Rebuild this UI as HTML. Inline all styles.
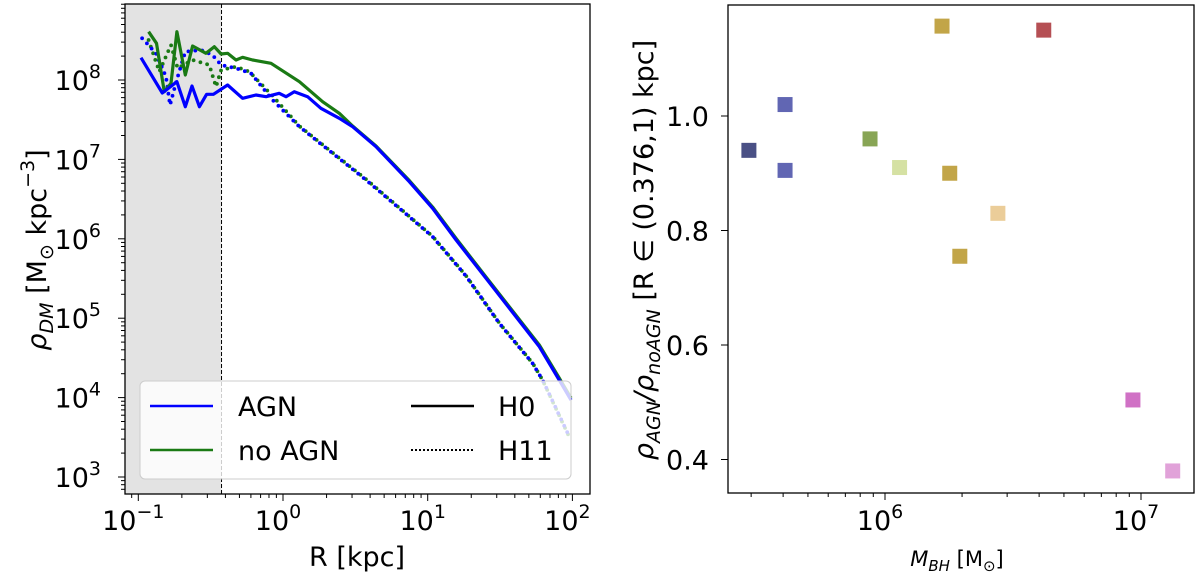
<!DOCTYPE html>
<html><head><meta charset="utf-8"><style>
html,body{margin:0;padding:0;background:#fff;}
svg{display:block;font-family:"DejaVu Sans","Liberation Sans",sans-serif;}
</style></head><body>
<svg id="fig" width="1200" height="583" viewBox="0 0 1200 583">
<g id="left"></g>
<g id="right"></g>
</svg>
<script>
// ---- Left panel data (log10 R [kpc], log10 rho) ----
const agnH0_logR = [-0.981,-0.834,-0.733,-0.675,-0.629,-0.578,-0.528,-0.481,-0.383,-0.279,-0.187,-0.117,-0.026,0.021,0.078,0.170,0.262,0.389,0.481,0.643,0.873,1.034,1.196,1.403,1.771,1.909,1.990];
const agnH0_logRho = [8.281,7.836,7.979,7.664,7.924,7.664,7.820,7.820,7.937,7.770,7.811,7.790,7.832,7.790,7.853,7.790,7.644,7.518,7.412,7.160,6.719,6.384,5.985,5.503,4.641,4.222,3.970];
const noagnH0_logR = [-0.929,-0.874,-0.820,-0.774,-0.733,-0.675,-0.625,-0.532,-0.475,-0.428,-0.383,-0.325,-0.279,-0.210,-0.083,0.113,0.274,0.389,0.481,0.643,0.873,1.034,1.196,1.403,1.771,1.909,1.990];
const noagnH0_logRho = [8.608,8.462,7.853,7.958,8.608,8.063,8.428,8.336,8.419,8.327,8.336,8.252,8.286,8.252,8.210,7.979,7.727,7.581,7.421,7.169,6.734,6.400,6.004,5.519,4.662,4.247,3.995];
const agnH11_logR = [-0.974,-0.878,-0.809,-0.781,-0.728,-0.675,-0.567,-0.487,-0.428,-0.325,-0.221,-0.072,0.113,0.343,0.574,0.804,1.034,1.265,1.495,1.725,1.794,1.979];
const agnH11_logRho = [8.525,8.336,8.042,7.685,8.042,8.356,8.378,8.315,8.189,8.147,8.084,7.748,7.412,7.077,6.741,6.384,6.026,5.531,4.936,4.432,4.222,3.508];
const noagnH11_logR = [-0.929,-0.855,-0.774,-0.728,-0.625,-0.509,-0.463,-0.428,-0.325,-0.233,-0.072,0.113,0.343,0.574,0.804,1.034,1.265,1.495,1.725,1.794,1.979];
const noagnH11_logRho = [8.504,8.105,8.441,8.147,8.252,8.189,7.916,8.126,8.168,8.105,7.798,7.420,7.085,6.750,6.390,6.030,5.535,4.940,4.435,4.220,3.500];
const leftXTickExp = [-1,0,1,2];
const leftYTickExp = [3,4,5,6,7,8];
const innerCut = 0.376;
// ---- Right panel data ----
const mbh = [2.94e5,4.07e5,4.07e5,8.74e5,1.14e6,1.67e6,1.79e6,1.96e6,2.76e6,4.17e6,9.3e6,1.33e7];
const ratio = [0.940,1.020,0.905,0.960,0.910,1.157,0.900,0.755,0.830,1.150,0.504,0.380];
const pointColors = ["#1d2466","#3a40a0","#3a40a0","#6a8e2a","#cbd98c","#b38e1a","#b38e1a","#b38e1a","#e6c180","#a32329","#c44db6","#d98bcf"];
const rightYTicks = [0.4,0.6,0.8,1.0];
const rightXTickExp = [6,7];

const NS="http://www.w3.org/2000/svg";
function mk(parent,tag,attrs,text){const e=document.createElementNS(NS,tag);for(const k in attrs)e.setAttribute(k,attrs[k]);if(text!==undefined)e.textContent=text;parent.appendChild(e);return e;}

const FS=27, SS=19;
// ===== Left axes =====
const L={x0:125,x1:590,y0:4,y1:494};
const lx=v=>283+v*144.7;
const ly=v=>80-(v-8)*79.4;
const left=document.getElementById('left');
let e;
e=mk(left,'rect',{x:L.x0,y:L.y0,width:lx(Math.log10(innerCut))-L.x0,height:L.y1-L.y0,fill:'#e3e3e3'});


e=mk(left,'line',{x1:lx(Math.log10(innerCut)),x2:lx(Math.log10(innerCut)),y1:L.y0,y2:L.y1,stroke:'#000','stroke-width':1,'stroke-dasharray':'4,2'});



function drawLine(xs,ys,color,dotted,name){
  const d=xs.map((x,i)=>(i?'L':'M')+lx(x).toFixed(1)+','+ly(ys[i]).toFixed(1)).join('');
  if(!dotted){
    const p=mk(left,'path',{d:d,fill:'none',stroke:color,'stroke-width':3.2,'stroke-linejoin':'round'});
    
    
    return;
  }
  const g=mk(left,'g',{fill:color});
  
  
  const p=mk(g,'path',{d:d,fill:'none',stroke:'none'});
  const len=p.getTotalLength();
  for(let s=0;s<=len;s+=7){const pt=p.getPointAtLength(s);mk(g,'circle',{cx:pt.x.toFixed(1),cy:pt.y.toFixed(1),r:1.9});}
}
drawLine(noagnH11_logR,noagnH11_logRho,'#1a7a14',true,'line-noagn-h11');
drawLine(agnH11_logR,agnH11_logRho,'#0000ff',true,'line-agn-h11');
drawLine(noagnH0_logR,noagnH0_logRho,'#1a7a14',false,'line-noagn-h0');
drawLine(agnH0_logR,agnH0_logRho,'#0000ff',false,'line-agn-h0');

const lt=mk(left,'g',{stroke:'#000','stroke-width':1});
for(let d=-2;d<=2;d++){for(let m=1;m<=9;m++){const v=d+Math.log10(m);const x=lx(v);if(x<L.x0||x>L.x1)continue;mk(lt,'line',{x1:x,x2:x,y1:L.y1,y2:L.y1+(m===1?7:4)});}}
for(let d=2;d<=9;d++){for(let m=1;m<=9;m++){const v=d+Math.log10(m);const y=ly(v);if(y<L.y0||y>L.y1)continue;mk(lt,'line',{x1:L.x0,x2:L.x0-(m===1?7:4),y1:y,y2:y});}}
leftXTickExp.forEach(p=>{const t=mk(left,'text',{x:lx(p)-5,y:530,'font-size':FS,'text-anchor':'middle'});t.appendChild(document.createTextNode('10'));mk(t,'tspan',{dy:-12,'font-size':SS},p<0?'−'+(-p):String(p));});
leftYTickExp.forEach(p=>{const t=mk(left,'text',{x:101,y:ly(p)+10,'font-size':FS,'text-anchor':'end'});t.appendChild(document.createTextNode('10'));mk(t,'tspan',{dy:-12,'font-size':SS},String(p));});
mk(left,'rect',{x:L.x0,y:L.y0,width:L.x1-L.x0,height:L.y1-L.y0,fill:'none',stroke:'#000','stroke-width':1.3});
e=mk(left,'text',{x:357,y:566,'font-size':FS,'text-anchor':'middle'},'R [kpc]');


e=mk(left,'text',{transform:'translate(46,250) rotate(-90)','font-size':FS,'text-anchor':'middle'});


mk(e,'tspan',{'font-style':'italic'},'ρ');mk(e,'tspan',{'font-size':SS,dy:7,'font-style':'italic'},'DM');mk(e,'tspan',{dy:-7},' [M');mk(e,'tspan',{'font-size':SS,dy:7},'⊙');mk(e,'tspan',{dy:-7},' kpc');mk(e,'tspan',{'font-size':SS,dy:-12},'−3');mk(e,'tspan',{dy:12},']');

// legend
const lg=mk(left,'g',{});


mk(lg,'rect',{x:140,y:381,width:431,height:98,rx:5,fill:'#fff','fill-opacity':0.8,stroke:'#ccc'});
const leg=[[150,406,'#0000ff',false,'AGN',238],[150,450,'#1a7a14',false,'no AGN',238],[411,406,'#000',false,'H0',498],[411,450,'#000',true,'H11',498]];
leg.forEach(a=>{const g=mk(lg,'g',{});const l=mk(g,'line',{x1:a[0],x2:a[0]+63,y1:a[1],y2:a[1],stroke:a[2],'stroke-width':a[3]?2:2.5});if(a[3])l.setAttribute('stroke-dasharray','2,2');mk(g,'text',{x:a[5],y:a[1]+10,'font-size':FS},a[4]);});

// ===== Right axes =====
const R={x0:728,x1:1194,y0:5,y1:493};
const rx=m=>885+(Math.log10(m)-6)*256;
const ry=v=>116-(v-1.0)*572.5;
const right=document.getElementById('right');
mbh.forEach((m,i)=>{const s=mk(right,'rect',{x:rx(m)-7.5,y:ry(ratio[i])-7.5,width:15,height:15,fill:pointColors[i],'fill-opacity':0.8});

});
const rt=mk(right,'g',{stroke:'#000','stroke-width':1});
for(let d=5;d<=7;d++){for(let m=1;m<=9;m++){const x=rx(m*Math.pow(10,d));if(x<R.x0||x>R.x1)continue;mk(rt,'line',{x1:x,x2:x,y1:R.y1,y2:R.y1+(m===1?7:4)});}}
rightYTicks.forEach(v=>{mk(rt,'line',{x1:R.x0,x2:R.x0-7,y1:ry(v),y2:ry(v)});const t=mk(right,'text',{x:709,y:ry(v)+10,'font-size':FS,'text-anchor':'end'},v.toFixed(1));});
rightXTickExp.forEach(p=>{const t=mk(right,'text',{x:rx(Math.pow(10,p))-5,y:530,'font-size':FS,'text-anchor':'middle'});t.appendChild(document.createTextNode('10'));mk(t,'tspan',{dy:-12,'font-size':SS},String(p));});
mk(right,'rect',{x:R.x0,y:R.y0,width:R.x1-R.x0,height:R.y1-R.y0,fill:'none',stroke:'#000','stroke-width':1.3});
e=mk(right,'text',{x:957,y:566,'font-size':21,'text-anchor':'middle'});


mk(e,'tspan',{'font-style':'italic'},'M');mk(e,'tspan',{'font-size':15,dy:5,'font-style':'italic'},'BH');mk(e,'tspan',{dy:-5},' [M');mk(e,'tspan',{'font-size':15,dy:5},'⊙');mk(e,'tspan',{dy:-5},']');
e=mk(right,'text',{transform:'translate(653,250) rotate(-90)','font-size':FS,'text-anchor':'middle'});


mk(e,'tspan',{'font-style':'italic'},'ρ');mk(e,'tspan',{'font-size':SS,dy:7,'font-style':'italic'},'AGN');mk(e,'tspan',{dy:-7,'font-style':'italic'},'/ρ');mk(e,'tspan',{'font-size':SS,dy:7,'font-style':'italic'},'noAGN');mk(e,'tspan',{dy:-7},' [R ∈ (0.376,1) kpc]');
</script>
</body></html>
